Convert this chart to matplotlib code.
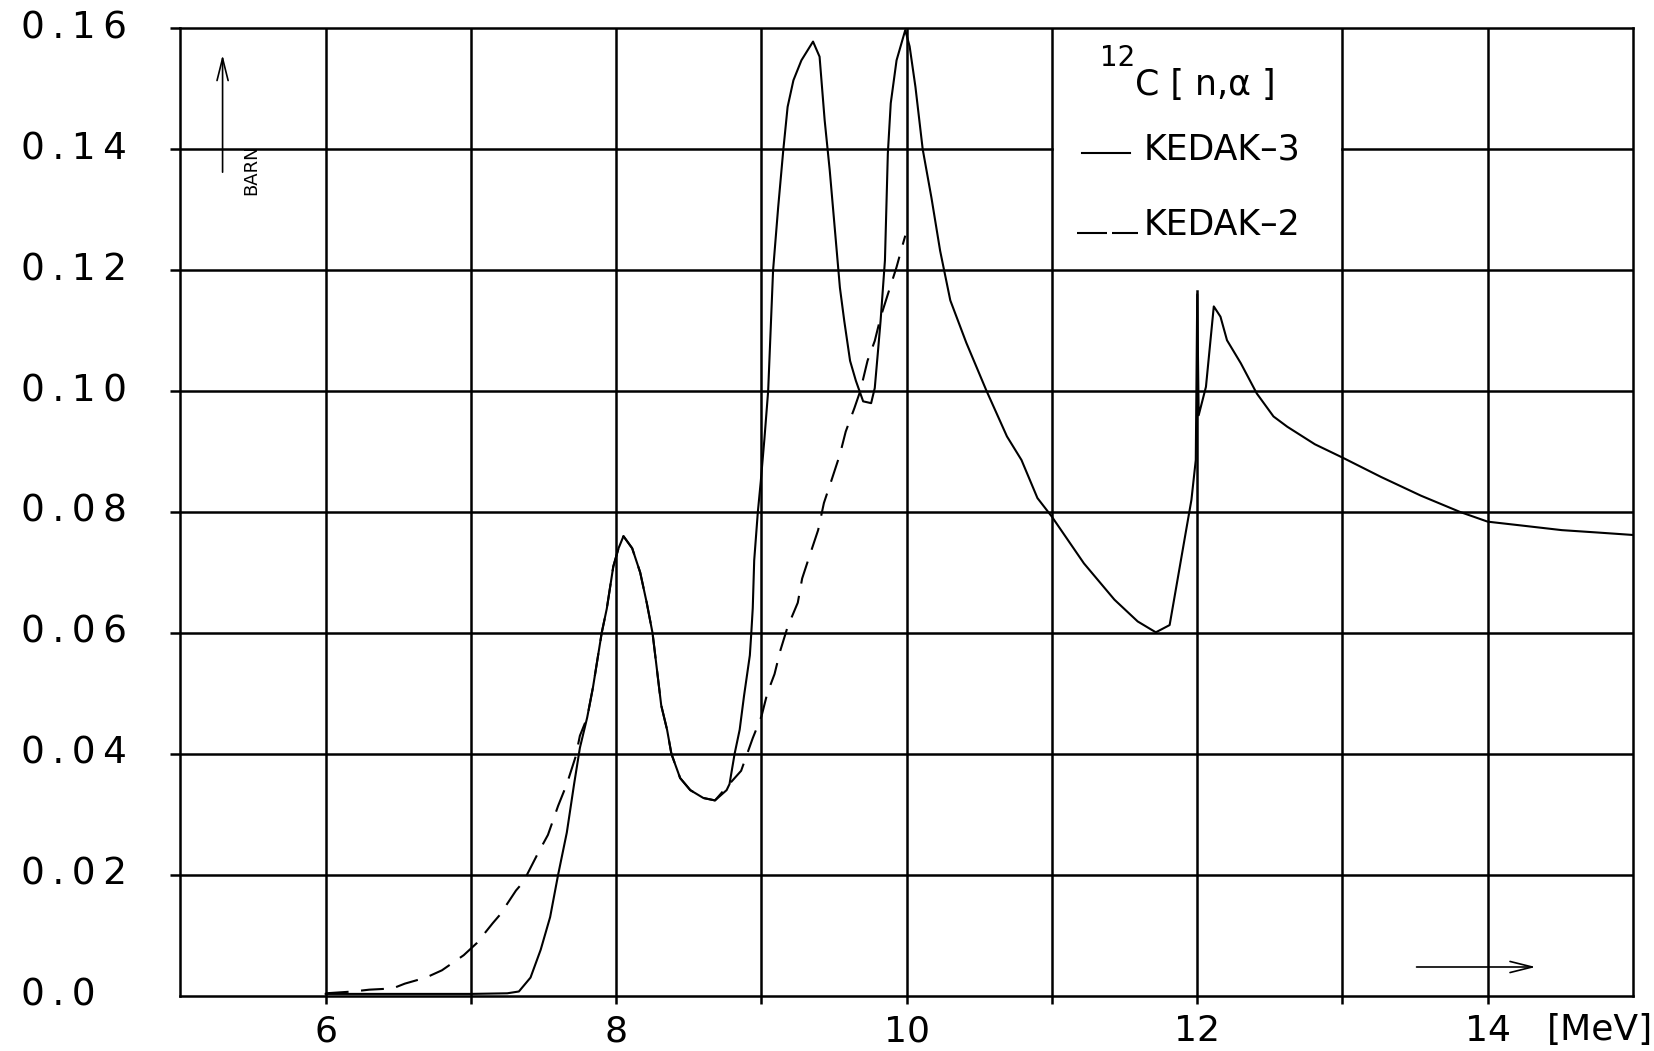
import matplotlib
matplotlib.use('Agg')
import matplotlib.pyplot as plt

# 12C(n,alpha) cross section, KEDAK-3 evaluation [MeV, barn]
e_kedak3 = [6.0, 6.5, 7.0, 7.25, 7.33, 7.41, 7.48, 7.545, 7.60, 7.66, 7.71, 7.75,
	7.80, 7.84, 7.90, 7.935, 7.98, 8.016, 8.05, 8.11, 8.165, 8.21, 8.25, 8.28,
	8.31, 8.35, 8.38, 8.44, 8.51, 8.60, 8.68, 8.76, 8.78, 8.815, 8.85, 8.88,
	8.92, 8.93, 8.94, 8.95, 8.975, 8.995, 9.02, 9.046, 9.08, 9.115, 9.15, 9.18,
	9.22, 9.275, 9.355, 9.40, 9.435, 9.47, 9.50, 9.54, 9.57, 9.61, 9.65, 9.70,
	9.755, 9.78, 9.80, 9.82, 9.85, 9.87, 9.89, 9.93, 9.99, 10.02, 10.06, 10.11,
	10.17, 10.23, 10.30, 10.41, 10.55, 10.69, 10.79, 10.90, 11.0, 11.22, 11.43,
	11.59, 11.715, 11.81, 11.86, 11.92, 11.96, 11.99, 12.0, 12.01, 12.06, 12.114,
	12.16, 12.205, 12.30, 12.41, 12.525, 12.62, 12.81, 13.0, 13.265, 13.54, 13.81,
	14.0, 14.22, 14.51, 14.76, 15.0]
s_kedak3 = [0.0003, 0.0003, 0.0003, 0.0004, 0.0007, 0.003, 0.0076, 0.013, 0.020, 0.027, 0.035, 0.041,
	0.046, 0.051, 0.060, 0.064, 0.071, 0.074, 0.076, 0.074, 0.070, 0.065, 0.060, 0.054,
	0.048, 0.044, 0.040, 0.036, 0.034, 0.0327, 0.0323, 0.034, 0.035, 0.040, 0.044, 0.0496,
	0.0563, 0.060, 0.0641, 0.072, 0.080, 0.085, 0.092, 0.100, 0.120, 0.1304, 0.1398, 0.147,
	0.1514, 0.1547, 0.1578, 0.1553, 0.1448, 0.1365, 0.1282, 0.1171, 0.1116, 0.105, 0.1017, 0.0983,
	0.098, 0.1005, 0.106, 0.1116, 0.1216, 0.1393, 0.1476, 0.1547, 0.1597, 0.157, 0.1503, 0.140,
	0.132, 0.1232, 0.115, 0.108, 0.100, 0.0925, 0.0886, 0.0823, 0.0792, 0.0715, 0.0655,
	0.0619, 0.0601, 0.0613, 0.0682, 0.0765, 0.082, 0.0886, 0.116, 0.096, 0.1007, 0.114,
	0.1123, 0.1084, 0.1046, 0.0996, 0.0958, 0.0941, 0.0912, 0.089, 0.0858, 0.0827, 0.080,
	0.0784, 0.0778, 0.077, 0.0766, 0.0762]

# KEDAK-2 evaluation, same reaction (ends at 10 MeV)
e_kedak2 = [6.0, 6.19, 6.30, 6.46, 6.545, 6.69, 6.80, 6.95, 7.04, 7.15, 7.20, 7.31,
	7.36, 7.46, 7.53, 7.60, 7.66, 7.72, 7.75, 7.80, 7.84, 7.90, 7.935, 7.98,
	8.016, 8.05, 8.11, 8.165, 8.21, 8.25, 8.28, 8.31, 8.35, 8.38, 8.44, 8.51,
	8.60, 8.68, 8.76, 8.86, 8.94, 9.0, 9.04, 9.09, 9.13, 9.18, 9.25, 9.28,
	9.34, 9.39, 9.43, 9.48, 9.54, 9.58, 9.64, 9.68, 9.73, 9.78, 9.82, 9.87,
	9.93, 9.97, 9.99]
s_kedak2 = [0.0004, 0.0007, 0.0010, 0.0012, 0.0020, 0.0030, 0.0042, 0.0067, 0.0087, 0.012, 0.0134, 0.0174,
	0.0188, 0.0235, 0.0266, 0.0314, 0.035, 0.0395, 0.043, 0.046, 0.051, 0.060, 0.064, 0.071,
	0.074, 0.076, 0.074, 0.070, 0.065, 0.060, 0.054, 0.048, 0.044, 0.040, 0.036, 0.034,
	0.0327, 0.0323, 0.0345, 0.0372, 0.0426, 0.0462, 0.050, 0.0532, 0.0571, 0.061, 0.065, 0.069,
	0.0734, 0.077, 0.0815, 0.0851, 0.0895, 0.0933, 0.0972, 0.100, 0.105, 0.1083, 0.1122, 0.116,
	0.1205, 0.124, 0.1257]

x_grid = [6, 7, 8, 9, 10, 11, 12, 13, 14]
x_labels = ['6', '', '8', '', '10', '', '12', '', '14']
y_grid = [0.0, 0.02, 0.04, 0.06, 0.08, 0.10, 0.12, 0.14, 0.16]
y_labels = ['0.0', '0.02', '0.04', '0.06', '0.08', '0.10', '0.12', '0.14', '0.16']

grid_lw = 1.8
curve_lw = 1.5

fig = plt.figure(figsize=(16.54, 10.51), dpi=100)
ax = fig.add_axes([0.1091, 0.0526, 0.8782, 0.9205])
ax.set_xlim(5, 15)
ax.set_ylim(0, 0.16)

for s in ax.spines.values():
	s.set_linewidth(grid_lw)

# grid by hand, the cell 11..13 MeV / 0.12..0.16 barn holds the key
for x in x_grid:
	top = 1.0
	if x == 12:
		top = 0.1165 / 0.16
	ax.axvline(x, ymax=top, color='k', lw=grid_lw, zorder=1)
for y in y_grid[1:-1]:
	if y == 0.14:
		ax.axhline(y, xmax=0.6, color='k', lw=grid_lw, zorder=1)
		ax.axhline(y, xmin=0.8, color='k', lw=grid_lw, zorder=1)
	else:
		ax.axhline(y, color='k', lw=grid_lw, zorder=1)

# ticks and labels
ax.set_xticks(x_grid, labels=x_labels)
ax.set_yticks(y_grid, labels=['\u2009'.join(lbl) for lbl in y_labels])
ax.tick_params(axis='x', direction='out', length=5.5, width=grid_lw, pad=8,
	labelsize=26)
ax.tick_params(axis='y', direction='out', length=7, width=grid_lw, pad=108,
	labelsize=27)
for lbl in ax.get_xticklabels():
	lbl.set_family(['Liberation Sans Narrow', 'DejaVu Sans'])
for lbl in ax.get_yticklabels():
	lbl.set_ha('left')
	lbl.set_va('center')
ax.yaxis.get_major_ticks()[0].tick1line.set_visible(False)

# the two evaluations
ax.plot(e_kedak2, s_kedak2, color='k', lw=curve_lw, linestyle=(0, (11, 6)), zorder=3)
ax.plot(e_kedak3, s_kedak3, color='k', lw=curve_lw, zorder=4)

# key
ax.text(11.33, 0.1551, '12', fontsize=20, ha='left', va='center')
ax.text(11.57, 0.1506, 'C [ n,\u03b1 ]', fontsize=25, ha='left', va='center')
ax.plot([11.21, 11.54], [0.1394, 0.1394], color='k', lw=curve_lw)
ax.text(11.63, 0.1399, 'KEDAK\u20133', fontsize=25, ha='left', va='center')
ax.plot([11.17, 11.59], [0.1261, 0.1261], color='k', lw=curve_lw,
	linestyle=(0, (14.4, 2.4)))
ax.text(11.63, 0.1274, 'KEDAK\u20132', fontsize=25, ha='left', va='center')

# axis arrows
ax.annotate('', xy=(5.29, 0.1556), xytext=(5.29, 0.1362),
	arrowprops=dict(arrowstyle='->,head_length=0.8,head_width=0.2', lw=1.2,
	color='k', shrinkA=0, shrinkB=0, mutation_scale=20))
ax.text(5.49, 0.1366, 'BARN', fontsize=13, rotation=90, ha='center', va='center')
ax.annotate('', xy=(14.33, 0.00475), xytext=(13.51, 0.00475),
	arrowprops=dict(arrowstyle='->,head_length=0.8,head_width=0.2', lw=1.2,
	color='k', shrinkA=0, shrinkB=0, mutation_scale=20))
fig.text(0.9674, 0.0200, '[MeV]', fontsize=26, ha='center', va='center',
	family=['Liberation Sans Narrow', 'DejaVu Sans'])

fig.savefig('out.png', dpi=100)
